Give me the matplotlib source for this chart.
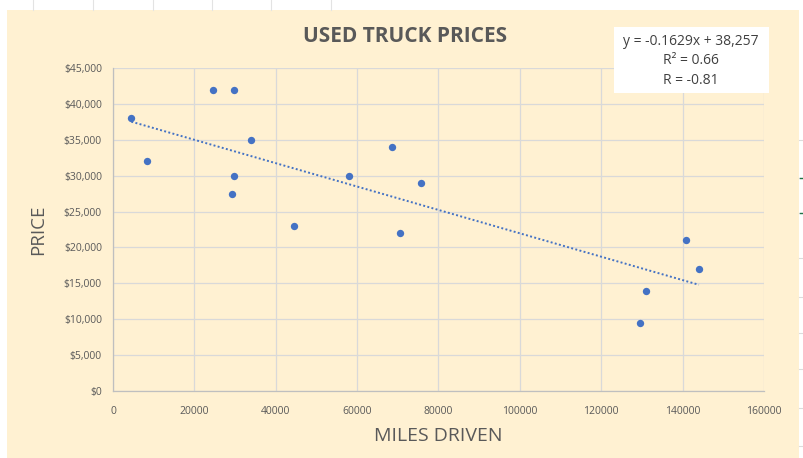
import matplotlib.pyplot as plt
from matplotlib.patches import Rectangle
from matplotlib.ticker import FuncFormatter, MultipleLocator

# miles driven vs. asking price for used trucks
miles = [4500, 8400, 24500, 29700, 34000, 29700, 29200, 44500,
         58000, 68500, 70500, 75700, 129500, 131000, 140800, 144000]
price = [38000, 32000, 42000, 42000, 35000, 30000, 27500, 23000,
         30000, 34000, 22000, 29000, 9500, 14000, 21000, 17000]

# linear trendline as reported on the chart
slope = -0.1629
intercept = 38257
r_squared = 0.66
r_value = -0.81

bg = '#fff1d2'
grey = '#595959'
grid = '#d9d9d9'
blue = '#4472c4'

plt.rcParams['font.family'] = ['Open Sans', 'DejaVu Sans']

fig = plt.figure(figsize=(8.04, 4.58), dpi=100, facecolor='white')

# spreadsheet cell lines peeking out around the chart object
for xp in [33, 93, 153, 212, 271, 331]:
    fig.add_artist(plt.Line2D([xp / 804, xp / 804], [1, 1 - 10 / 458],
                              color='#e3e3e3', lw=0.8))
for yp in [140, 178, 213, 258, 297, 333, 369, 408, 446]:
    fig.add_artist(plt.Line2D([799 / 804, 1], [1 - yp / 458] * 2,
                              color='#dcdcdc', lw=0.8))
for yp in [178, 213]:
    fig.add_artist(plt.Line2D([800 / 804, 1], [1 - yp / 458] * 2,
                              color='#217346', lw=1.0))

# chart area
fig.add_artist(Rectangle((7 / 804, 0), (799 - 7) / 804, 1 - 10 / 458,
                         transform=fig.transFigure, facecolor=bg,
                         edgecolor='none', zorder=0))

ax = fig.add_axes([113 / 804, (458 - 391) / 458, 651 / 804, 323 / 458])
ax.set_facecolor(bg)

ax.scatter(miles, price, s=28, color=blue, zorder=3, linewidths=0)

x0, x1 = min(miles), max(miles)
ax.plot([x0, x1], [slope * x0 + intercept, slope * x1 + intercept],
        color=blue, lw=1.4, linestyle=(0, (1, 1.2)), zorder=2)

ax.set_xlim(0, 160000)
ax.set_ylim(0, 45000)
ax.xaxis.set_major_locator(MultipleLocator(20000))
ax.yaxis.set_major_locator(MultipleLocator(5000))
ax.yaxis.set_major_formatter(FuncFormatter(lambda v, p: f'${v:,.0f}'))
ax.grid(True, color=grid, lw=0.9)
ax.set_axisbelow(True)
ax.tick_params(length=0, labelsize=7.5, labelcolor=grey)
ax.tick_params(axis='x', pad=11)
ax.tick_params(axis='y', pad=8)
for side in ['top', 'right']:
    ax.spines[side].set_visible(False)
for side in ['left', 'bottom']:
    ax.spines[side].set_color('#bfbfbf')
    ax.spines[side].set_linewidth(0.9)

ax.set_xlabel('MILES DRIVEN', fontsize=14, color=grey, labelpad=7)
ax.set_ylabel('PRICE', fontsize=13.5, color=grey, labelpad=12)

fig.text(405 / 804, 1 - 36 / 458, 'USED TRUCK PRICES', ha='center',
         va='center', fontsize=15, fontweight='bold', color=grey)

# trendline equation box
fig.add_artist(Rectangle((614 / 804, 1 - 93 / 458), 155 / 804, 66 / 458,
                         transform=fig.transFigure, facecolor='white',
                         edgecolor='none', zorder=5))
eq = f'y = {slope}x + {intercept:,}\nR² = {r_squared}\nR = {r_value}'
fig.text(691 / 804, 1 - 61 / 458, eq, ha='center', va='center',
         fontsize=10, color='#404040', linespacing=1.45, zorder=6)

fig.savefig('out.png', dpi=100, facecolor='white')
